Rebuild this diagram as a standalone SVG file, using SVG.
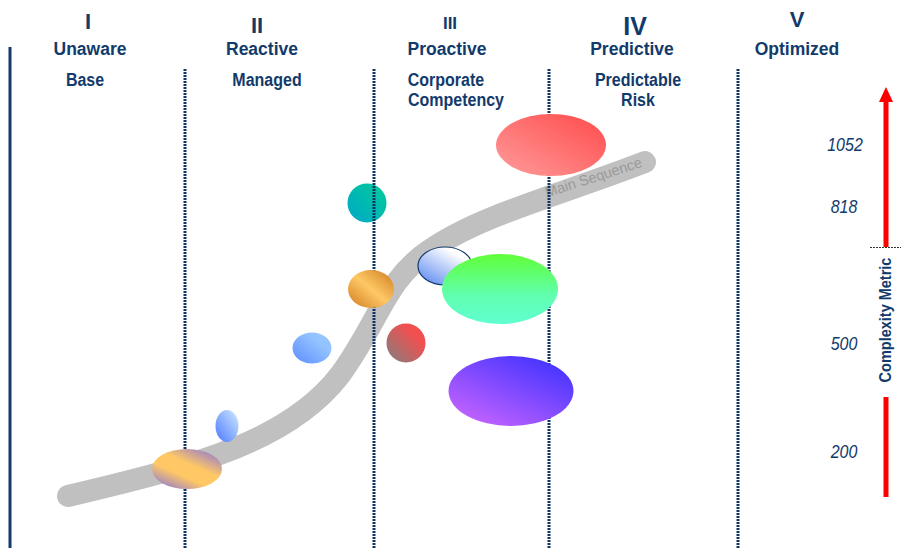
<svg xmlns="http://www.w3.org/2000/svg" width="917" height="548" viewBox="0 0 917 548">
<style>
.h{font-family:"Liberation Sans",Arial,sans-serif;font-weight:bold;fill:#123a6b;text-anchor:middle}
.n{font-family:"Liberation Sans",Arial,sans-serif;font-style:italic;fill:#123a6b;text-anchor:middle;font-size:16px}
.dot{stroke:#0f3566;stroke-width:3;stroke-dasharray:2 1;fill:none}
</style>
<defs>
<linearGradient id="gRed" x1="0" y1="1" x2="1" y2="0"><stop offset="0" stop-color="#ff9c9c"/><stop offset="1" stop-color="#ff4a4a"/></linearGradient>
<linearGradient id="gTeal" x1="0" y1="1" x2="1" y2="0"><stop offset="0" stop-color="#00a8c8"/><stop offset="1" stop-color="#00cc98"/></linearGradient>
<linearGradient id="gOrange" x1="0.1" y1="0.9" x2="0.9" y2="0.1"><stop offset="0" stop-color="#d88a2c"/><stop offset="0.5" stop-color="#ffc865"/><stop offset="1" stop-color="#d88a2c"/></linearGradient>
<linearGradient id="gBlue" x1="0" y1="1" x2="1" y2="0"><stop offset="0" stop-color="#5c8cff"/><stop offset="0.7" stop-color="#94c4ff"/></linearGradient>
<linearGradient id="gWhite" x1="0.1" y1="1" x2="0.9" y2="0"><stop offset="0" stop-color="#5a88f0"/><stop offset="0.8" stop-color="#ffffff"/></linearGradient>
<linearGradient id="gGreen" x1="0" y1="0" x2="0" y2="1"><stop offset="0" stop-color="#60ff38"/><stop offset="0.6" stop-color="#60ffb0"/><stop offset="1" stop-color="#60ffd0"/></linearGradient>
<linearGradient id="gRed2" x1="0" y1="1" x2="1" y2="0"><stop offset="0" stop-color="#808080"/><stop offset="0.7" stop-color="#f05050"/></linearGradient>
<linearGradient id="gPurple" x1="0.1" y1="1" x2="0.9" y2="0"><stop offset="0" stop-color="#cc66ff"/><stop offset="1" stop-color="#3a30ff"/></linearGradient>
<linearGradient id="gSmall" x1="0" y1="1" x2="1" y2="0"><stop offset="0" stop-color="#4c78ff"/><stop offset="1" stop-color="#d0ecff"/></linearGradient>
<linearGradient id="gYP" x1="0.15" y1="0.95" x2="0.85" y2="0.05"><stop offset="0" stop-color="#9c80c8"/><stop offset="0.35" stop-color="#ffc865"/><stop offset="0.6" stop-color="#ffc865"/><stop offset="1" stop-color="#9c80c8"/></linearGradient>
</defs>

<g id="headings">
<text class="h" x="88" y="29" font-size="22">I</text>
<text class="h" x="257" y="33" font-size="22">II</text>
<text class="h" x="450" y="29" font-size="17">III</text>
<text class="h" x="635" y="35" font-size="25">IV</text>
<text class="h" x="797" y="27" font-size="22">V</text>
<text class="h" x="90" y="55" font-size="17.5">Unaware</text>
<text class="h" x="262" y="55" font-size="17.5">Reactive</text>
<text class="h" x="447" y="55" font-size="17.5">Proactive</text>
<text class="h" x="632" y="55" font-size="17.5">Predictive</text>
<text class="h" x="797" y="55" font-size="17.5">Optimized</text>
<text class="h" font-size="16" transform="translate(85,86) scale(1,1.12)">Base</text>
<text class="h" font-size="16" transform="translate(267,86) scale(1,1.12)">Managed</text>
<text class="h" font-size="16" transform="translate(446,86) scale(1,1.12)">Corporate</text>
<text class="h" font-size="16" transform="translate(456,106) scale(1,1.12)">Competency</text>
<text class="h" font-size="16" transform="translate(638,86) scale(1,1.12)">Predictable</text>
<text class="h" font-size="16" transform="translate(638,106) scale(1,1.12)">Risk</text>
</g>

<g id="main-sequence">
<path d="M 68 496 C 200 465, 290 440, 340 375 C 380 320, 385 280, 430 250 C 480 215, 560 195, 645 162" fill="none" stroke="#c0c0c0" stroke-width="22" stroke-linecap="round"/>
<text x="595" y="182" font-family="Liberation Sans, Arial, sans-serif" font-size="14.5" fill="#9a9a9a" text-anchor="middle" transform="rotate(-18 595 182)">Main Sequence</text>
</g>

<g id="teal-node"><circle cx="367" cy="203" r="19.5" fill="url(#gTeal)"/></g>

<g id="connectors">
<line x1="10" y1="47" x2="10" y2="548" stroke="#123a6b" stroke-width="3"/>
<line class="dot" x1="185" y1="69" x2="185" y2="548"/>
<line class="dot" x1="374" y1="69" x2="374" y2="548"/>
<line class="dot" x1="549" y1="69" x2="549" y2="548"/>
<line class="dot" x1="738" y1="69" x2="738" y2="548"/>
</g>

<g id="red-node"><ellipse cx="551" cy="145" rx="55" ry="31" fill="url(#gRed)"/></g>
<g id="orange-node"><ellipse cx="371" cy="289" rx="23" ry="19" fill="url(#gOrange)"/></g>
<g id="blue-node"><ellipse cx="312" cy="348" rx="19.5" ry="15.5" fill="url(#gBlue)"/></g>
<g id="white-node"><ellipse cx="445" cy="266" rx="27" ry="19" fill="url(#gWhite)" stroke="#123a6b" stroke-width="1.2"/></g>
<g id="green-node"><ellipse cx="500" cy="289" rx="58" ry="35" fill="url(#gGreen)"/></g>
<g id="red-small-node"><circle cx="406" cy="343" r="19.5" fill="url(#gRed2)"/></g>
<g id="purple-node"><ellipse cx="511" cy="391" rx="62.5" ry="35" fill="url(#gPurple)"/></g>
<g id="small-blue-node"><ellipse cx="227" cy="426" rx="11.5" ry="16" fill="url(#gSmall)"/></g>
<g id="yellow-purple-node"><ellipse cx="187" cy="469" rx="35" ry="20" fill="url(#gYP)"/></g>

<g id="complexity-axis">
<text class="n" transform="translate(845,151) scale(1,1.15)">1052</text>
<text class="n" transform="translate(844,213) scale(1,1.15)">818</text>
<text class="n" transform="translate(844,350) scale(1,1.15)">500</text>
<text class="n" transform="translate(844,458) scale(1,1.15)">200</text>
<line x1="886" y1="100" x2="886" y2="247" stroke="#ff0000" stroke-width="5"/>
<polygon points="886,87 879,102 893,102" fill="#ff0000"/>
<line x1="870" y1="247.5" x2="901" y2="247.5" stroke="#333" stroke-width="1" stroke-dasharray="2 1"/>
<line x1="886" y1="397" x2="886" y2="497" stroke="#ff0000" stroke-width="5"/>
<text class="h" font-size="14.5" transform="translate(891,320) rotate(-90) scale(1,1.2)">Complexity Metric</text>
</g>
</svg>
